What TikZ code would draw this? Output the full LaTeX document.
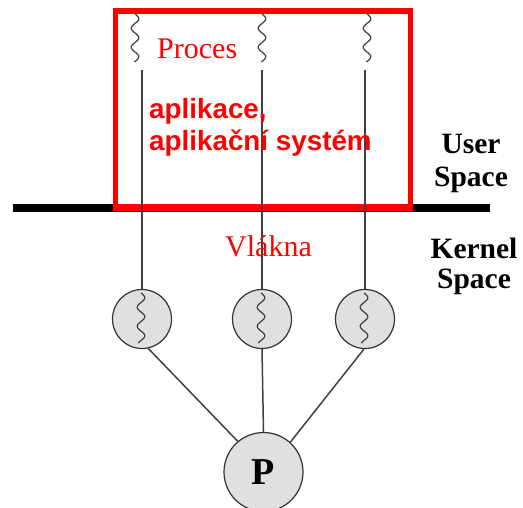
\documentclass[tikz,border=0pt]{standalone}
\usepackage{fontspec}
\setmainfont{Liberation Serif}
\newfontfamily\sansfam{Liberation Sans}
\begin{document}
\begin{tikzpicture}[x=1pt,y=-1pt,
  thr/.style={draw=black!75, line width=1.5pt},
  wig/.style={draw=black!75, line width=1.2pt},
  kt/.style={circle, draw=black!80, line width=1.2pt, fill=black!12, minimum size=59pt, inner sep=0pt},
  lbl/.style={font=\bfseries\fontsize{29.5}{31}\selectfont, anchor=base, inner sep=0pt},
  redtxt/.style={text=red, font=\fontsize{30}{32}\selectfont, anchor=base west, inner sep=0pt},
  appl/.style={text=red, font=\sansfam\bfseries\fontsize{27.8}{29}\selectfont, anchor=base west, inner sep=0pt}]
\useasboundingbox (0,0) rectangle (523,507);
% user/kernel boundary
\draw[line width=8pt] (13,207.5) -- (490,207.5);
% red box
\draw[red, line width=5.5pt] (115.5,11) rectangle (410.3,207);
\draw[red, line width=7pt] (112.75,207) -- (413.05,207);
% kernel threads
\node[kt] (k1) at (142,319) {};
\node[kt] (k2) at (262,319) {};
\node[kt] (k3) at (365,319) {};
\node[kt, minimum size=79pt] (P) at (263.5,472) {\bfseries\fontsize{38}{40}\selectfont P};
% squiggles
\draw[wig] plot[domain=0:48, samples=60, smooth] ({135+3.8*sin(\x/19*360)}, {14+\x});
\draw[wig] plot[domain=0:48, samples=60, smooth] ({262+3.8*sin(\x/19*360)}, {14+\x});
\draw[wig] plot[domain=0:48, samples=60, smooth] ({367+3.8*sin(\x/19*360)}, {14+\x});
\draw[wig] plot[domain=0:50, samples=60, smooth] ({141+3.8*sin(\x/19*360)}, {293+\x});
\draw[wig] plot[domain=0:50, samples=60, smooth] ({261+3.8*sin(\x/19*360)}, {293+\x});
\draw[wig] plot[domain=0:50, samples=60, smooth] ({364+3.8*sin(\x/19*360)}, {293+\x});
% thread lines
\coordinate (t1) at (142,70);
\coordinate (t2) at (262,70);
\coordinate (t3) at (365,70);
\draw[thr] (t1) -- (k1.north);
\draw[thr] (t2) -- (k2.north);
\draw[thr] (t3) -- (k3.north);
\draw[thr] (k1.-78) -- (P.130);
\draw[thr] (k2.south) -- (P.north);
\draw[thr] (k3.-92) -- (P.48);
% texts
\node[redtxt] (proc) at (157,58) {Proces};
\node[appl] (a1) at (149,118) {aplikace,};
\node[appl] (a2) at (149,150) {aplikační systém};
\node[redtxt] (vl) at (225,256) {Vlákna};
\node[lbl] (us1) at (471,153) {User};
\node[lbl] (us2) at (471,186) {Space};
\node[lbl] (ks1) at (474,258) {Kernel};
\node[lbl] (ks2) at (474,288) {Space};
\end{tikzpicture}
\end{document}
